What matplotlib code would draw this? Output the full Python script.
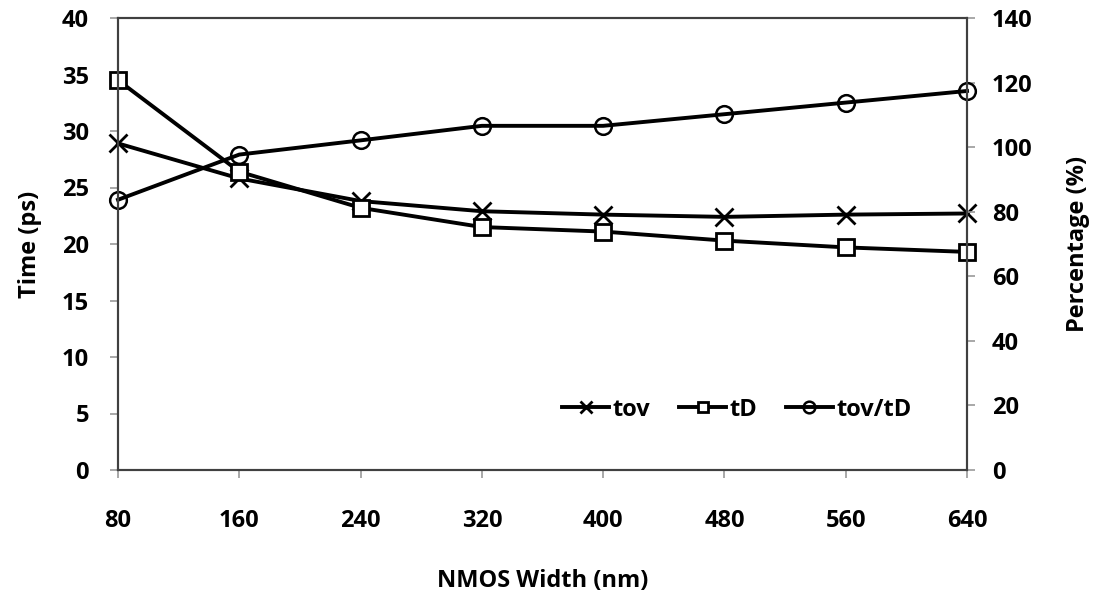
import matplotlib
matplotlib.use('Agg')
import matplotlib.pyplot as plt

plt.rcParams['font.family'] = ['Open Sans', 'DejaVu Sans']
plt.rcParams['font.weight'] = 'bold'

width = [80, 160, 240, 320, 400, 480, 560, 640]
tov = [28.9, 25.8, 23.8, 22.9, 22.6, 22.4, 22.6, 22.7]
tD = [34.5, 26.4, 23.2, 21.5, 21.1, 20.3, 19.7, 19.3]
ratio = [83.7, 97.7, 102.1, 106.6, 106.6, 110.2, 113.8, 117.4]

fig = plt.figure(figsize=(11.03, 5.94), dpi=100)
ax = fig.add_axes([118/1103, 1-470/594, 849/1103, 452/594])
ax2 = ax.twinx()

lw = 2.8
l1, = ax.plot(width, tov, color='black', lw=lw, marker='x', ms=13, mew=2, label='tov', clip_on=False)
l2, = ax.plot(width, tD, color='black', lw=lw, marker='s', ms=11, mfc='white', mew=2, label='tD', clip_on=False)
l3, = ax2.plot(width, ratio, color='black', lw=lw, marker='o', ms=12, mfc='none', mew=1.8, label='tov/tD', clip_on=False)

ax.set_xlim(80, 640)
ax.set_ylim(0, 40)
ax2.set_ylim(0, 140)
ax.set_xticks(width)
ax.set_yticks(range(0, 41, 5))
ax2.set_yticks(range(0, 141, 20))

for a in (ax, ax2):
    for s in a.spines.values():
        s.set_color('#404040')
        s.set_linewidth(1.5)
    a.tick_params(labelsize=17, color='#999999', length=6, width=1.2)
ax.tick_params(axis='x', pad=22)
ax.tick_params(axis='y', pad=15)
ax2.tick_params(axis='y', pad=12)

ax.set_xlabel('NMOS Width (nm)', fontsize=17, fontweight='bold', labelpad=26)
ax.set_ylabel('Time (ps)', fontsize=17, fontweight='bold', labelpad=14)
ax2.set_ylabel('Percentage (%)', fontsize=17, fontweight='bold', labelpad=24)

ax.legend(handles=[l1, l2, l3], loc='lower right', bbox_to_anchor=(0.96, 0.06), ncol=3,
          frameon=False, fontsize=17, handlelength=2.0, handletextpad=0.15, columnspacing=1.2,
          markerscale=0.7)

fig.savefig('out.png', dpi=100)
